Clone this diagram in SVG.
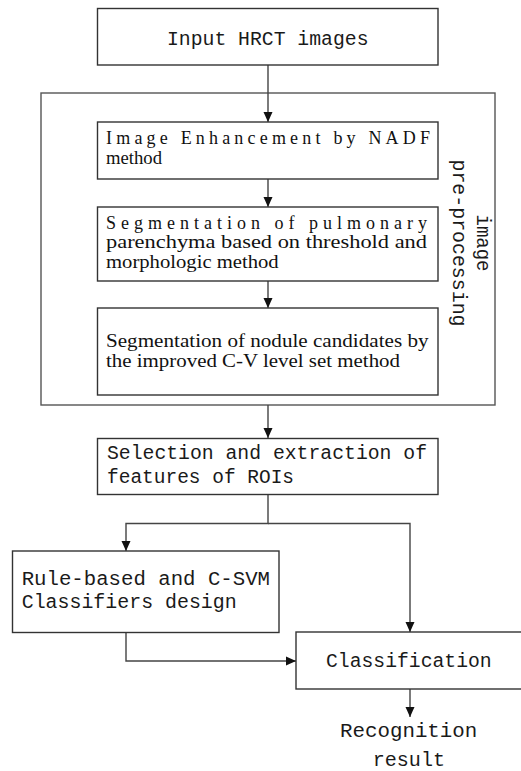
<svg xmlns="http://www.w3.org/2000/svg" width="521" height="771" viewBox="0 0 521 771">
<style>
.box{fill:#fff;stroke:#333;stroke-width:1.4}
.outer{fill:none;stroke:#555;stroke-width:1.4}
.ln{fill:none;stroke:#444;stroke-width:1.4}
.mono{font-family:"Liberation Mono","DejaVu Sans Mono",monospace;font-size:20px;fill:#1a1a1a}
.serif{font-family:"Liberation Serif","Times New Roman",serif;font-size:18px;fill:#111}
</style>
<defs>
<marker id="ah" markerUnits="userSpaceOnUse" markerWidth="10" markerHeight="10" refX="10" refY="5" orient="auto">
<path d="M0,0.5 L10,5 L0,9.5 z" fill="#111"/>
</marker>
</defs>
<g id="preprocessing">
<rect class="outer" x="41" y="93" width="454" height="312"/>
<text class="mono" transform="translate(477,243) rotate(90)" text-anchor="middle" textLength="57" lengthAdjust="spacingAndGlyphs">image</text>
<text class="mono" transform="translate(452.5,243) rotate(90)" text-anchor="middle" textLength="167" lengthAdjust="spacingAndGlyphs">pre-processing</text>
</g>
<g id="connectors">
<line class="ln" x1="268" y1="65" x2="268" y2="122" marker-end="url(#ah)"/>
<line class="ln" x1="268" y1="179" x2="268" y2="207" marker-end="url(#ah)"/>
<line class="ln" x1="268" y1="281" x2="268" y2="308" marker-end="url(#ah)"/>
<line class="ln" x1="268" y1="405" x2="268" y2="438" marker-end="url(#ah)"/>
<polyline class="ln" points="268,494 268,523.5 126,523.5 126,551" marker-end="url(#ah)"/>
<polyline class="ln" points="268,523.5 410,523.5 410,632" marker-end="url(#ah)"/>
<polyline class="ln" points="126,632 126,661 296,661" marker-end="url(#ah)"/>
<line class="ln" x1="410" y1="689" x2="410" y2="717" marker-end="url(#ah)"/>
</g>
<g id="input">
<rect class="box" x="97.5" y="8.5" width="340.5" height="56.5"/>
<text class="mono" x="167" y="45" textLength="201.5" lengthAdjust="spacingAndGlyphs">Input HRCT images</text>
</g>
<g id="enhancement">
<rect class="box" x="97.5" y="122" width="340.5" height="57"/>
<text class="serif" x="106" y="143.5" textLength="324" lengthAdjust="spacing">Image Enhancement by NADF</text>
<text class="serif" x="106" y="163.5" textLength="56" lengthAdjust="spacingAndGlyphs">method</text>
</g>
<g id="segmentation-parenchyma">
<rect class="box" x="97.5" y="207" width="340.5" height="74"/>
<text class="serif" x="106" y="228.5" textLength="321" lengthAdjust="spacing">Segmentation of pulmonary</text>
<text class="serif" x="106" y="248.3" textLength="321" lengthAdjust="spacingAndGlyphs">parenchyma based on threshold and</text>
<text class="serif" x="106" y="268" textLength="172.7" lengthAdjust="spacingAndGlyphs">morphologic method</text>
</g>
<g id="segmentation-nodule">
<rect class="box" x="97.5" y="308" width="340.5" height="87"/>
<text class="serif" x="106" y="347" textLength="322.5" lengthAdjust="spacingAndGlyphs">Segmentation of nodule candidates by</text>
<text class="serif" x="106" y="367" textLength="294" lengthAdjust="spacingAndGlyphs">the improved C-V level set method</text>
</g>
<g id="features">
<rect class="box" x="97.5" y="438.5" width="340.5" height="56"/>
<text class="mono" x="107" y="459" textLength="320" lengthAdjust="spacingAndGlyphs">Selection and extraction of</text>
<text class="mono" x="107" y="482.7" textLength="187" lengthAdjust="spacingAndGlyphs">features of ROIs</text>
</g>
<g id="classifiers">
<rect class="box" x="12.5" y="551" width="266.5" height="81.5"/>
<text class="mono" x="21.7" y="585" textLength="248.3" lengthAdjust="spacingAndGlyphs">Rule-based and C-SVM</text>
<text class="mono" x="21.7" y="608.3" textLength="215" lengthAdjust="spacingAndGlyphs">Classifiers design</text>
</g>
<g id="classification">
<rect class="box" x="296" y="632" width="230" height="57"/>
<text class="mono" x="326" y="667.3" textLength="165.7" lengthAdjust="spacingAndGlyphs">Classification</text>
</g>
<g id="result">
<text class="mono" x="340" y="737.3" textLength="137.3" lengthAdjust="spacingAndGlyphs">Recognition</text>
<text class="mono" x="372.7" y="765.5" textLength="72.3" lengthAdjust="spacingAndGlyphs">result</text>
</g>
</svg>
